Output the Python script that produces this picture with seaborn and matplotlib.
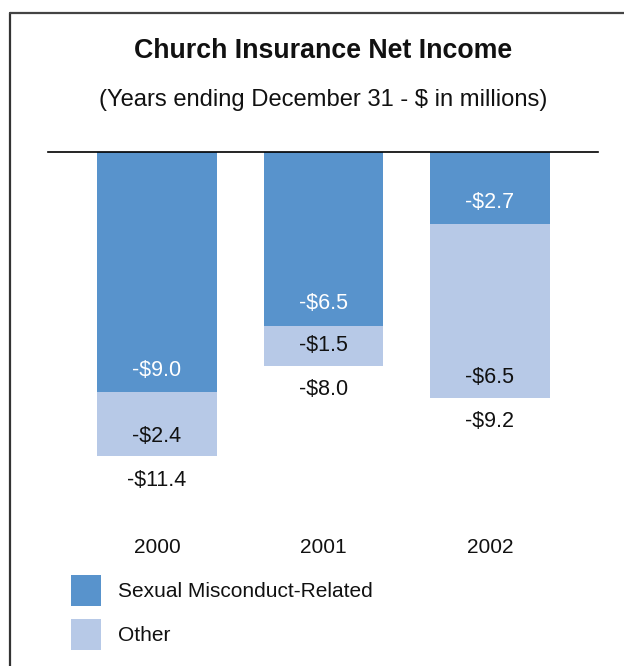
import matplotlib
matplotlib.use("Agg")
import matplotlib.pyplot as plt
from matplotlib.lines import Line2D
import seaborn as sns
import pandas as pd

# Net income components, $ millions (losses shown as negatives)
years = ["2000", "2001", "2002"]
sexual_misconduct = [9.0, 6.5, 2.7]
other = [2.4, 1.5, 6.5]
totals = [11.4, 8.0, 9.2]

DARK = "#5893CC"
LIGHT = "#B7C9E7"

sns.set_theme(style="white")
plt.rcParams["font.family"] = ["Liberation Sans", "DejaVu Sans"]

W, H = 624, 666
fig = plt.figure(figsize=(W / 100, H / 100), dpi=100)
fig.patch.set_facecolor("white")

ax = fig.add_axes([48 / W, 1 - 530 / H, (598 - 48) / W, (530 - 152) / H])

df = pd.DataFrame({
    "year": years,
    "total": [-t for t in totals],
    "sexual": [-s for s in sexual_misconduct],
})

# Light bars span the full loss; dark bars overlay the misconduct part
sns.barplot(data=df, x="year", y="total", color=LIGHT, saturation=1,
            width=0.72, errorbar=None, ax=ax, label="Other", linewidth=0)
sns.barplot(data=df, x="year", y="sexual", color=DARK, saturation=1,
            width=0.72, errorbar=None, ax=ax, label="Sexual Misconduct-Related",
            linewidth=0)

ax.set_xlim(-0.655, 2.649)
ax.set_ylim(-(530 - 152) / 26.7, 0)

for sp in ["left", "right", "bottom"]:
    ax.spines[sp].set_visible(False)
ax.spines["top"].set_color("black")
ax.spines["top"].set_linewidth(1.2)

ax.set_yticks([])
ax.set_xlabel("")
ax.set_ylabel("")
ax.tick_params(axis="x", length=0, pad=6, labelsize=15, colors="#111111")

px = 0.72  # points per pixel at 100 dpi
for i in range(len(years)):
    s, o, t = sexual_misconduct[i], other[i], totals[i]
    ax.annotate(f"-${s:.1f}", xy=(i, -s), xytext=(0, 22 * px),
                textcoords="offset points", ha="center", va="center",
                color="white", fontsize=15.5, parse_math=False)
    ax.annotate(f"-${o:.1f}", xy=(i, -t), xytext=(0, 20 * px),
                textcoords="offset points", ha="center", va="center",
                color="#111111", fontsize=15.5, parse_math=False)
    ax.annotate(f"-${t:.1f}", xy=(i, -t), xytext=(0, -24 * px),
                textcoords="offset points", ha="center", va="center",
                color="#111111", fontsize=15.5, parse_math=False)

handles, labels = ax.get_legend_handles_labels()
order = [labels.index("Sexual Misconduct-Related"), labels.index("Other")]
ax.legend([handles[k] for k in order], [labels[k] for k in order],
          loc="upper left", bbox_to_anchor=(71 / W, 1 - 575 / H),
          bbox_transform=fig.transFigure, frameon=False, fontsize=15,
          handlelength=1.44, handleheight=1.91, handletextpad=0.81,
          labelspacing=0.62, borderpad=0, borderaxespad=0,
          labelcolor="#111111")

fig.text(323.5 / W, 1 - 51 / H, "Church Insurance Net Income",
         ha="center", va="center", fontsize=19.3, fontweight="bold",
         color="#111111")
fig.text(323 / W, 1 - 100 / H, "(Years ending December 31 - $ in millions)",
         ha="center", va="center", fontsize=17.1, color="#111111",
         parse_math=False)

# Frame edges along the top and left
fig.add_artist(Line2D([10 / W, 10 / W], [0, 1 - 13 / H], transform=fig.transFigure,
                      color="#333333", linewidth=1.6))
fig.add_artist(Line2D([10 / W, 1], [1 - 13 / H, 1 - 13 / H], transform=fig.transFigure,
                      color="#444444", linewidth=1.6))

fig.savefig("out.png", dpi=100, facecolor="white")
